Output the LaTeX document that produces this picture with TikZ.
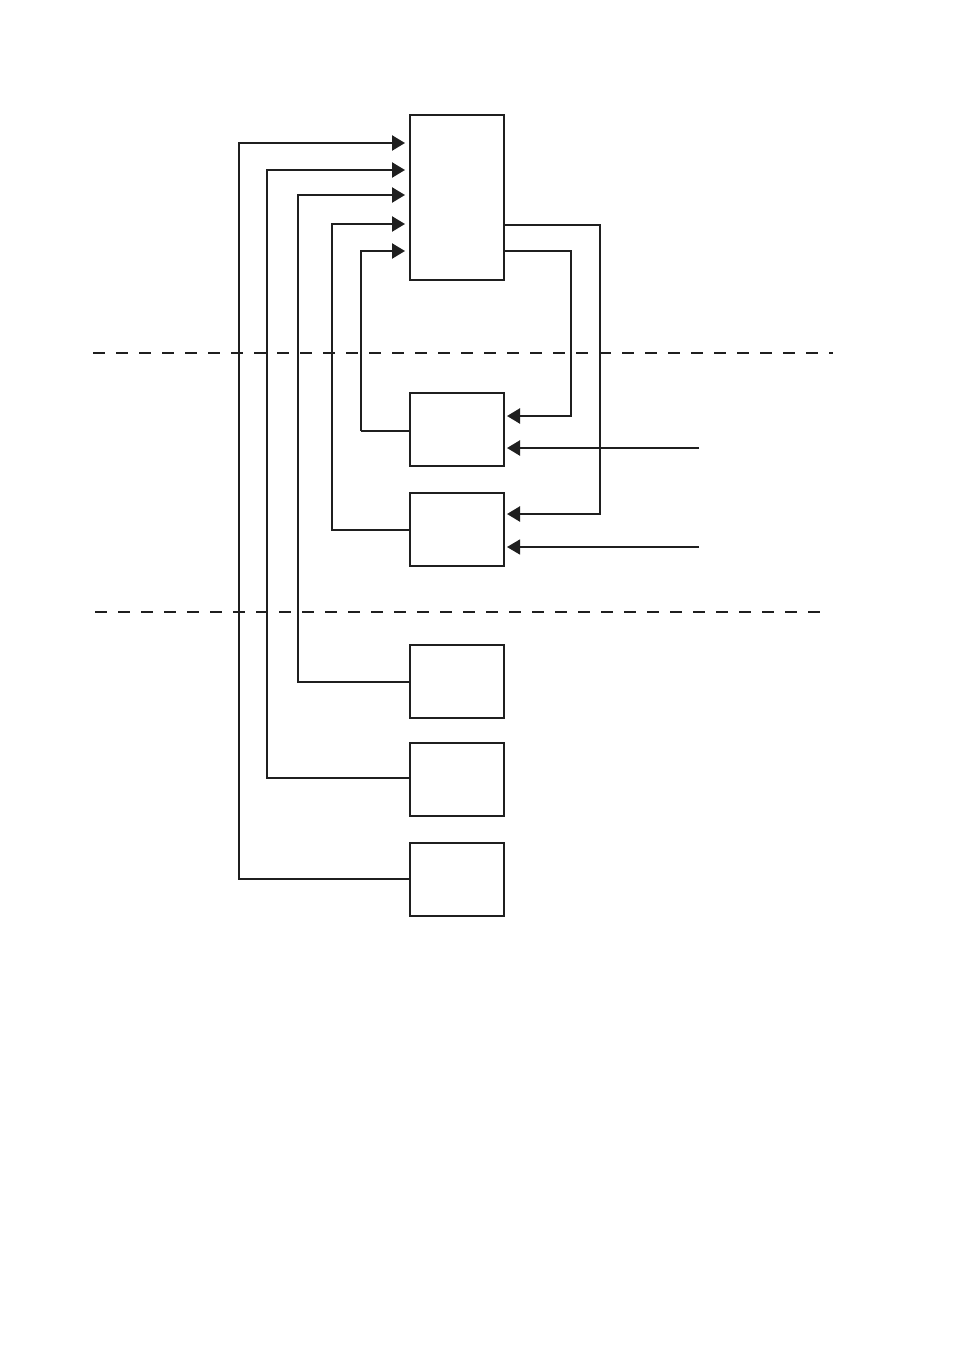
\documentclass[tikz,border=0pt]{standalone}
\usetikzlibrary{arrows.meta}
\begin{document}
\begin{tikzpicture}[x=1pt,y=-1pt,
  box/.style={draw=black!88, line width=2.3pt, minimum width=94pt, inner sep=0pt, outer sep=0pt},
  wire/.style={draw=black!88, line width=2.3pt},
  thinwire/.style={draw=black!88, line width=1.3pt},
  arr/.style={wire, -{Triangle[length=13pt,width=15pt]}},
  thinarr/.style={thinwire, -{Triangle[length=13pt,width=15pt]}},
  sep/.style={draw=black!88, line width=2.5pt, dash pattern=on 12pt off 11pt}]
\useasboundingbox (0,0) rectangle (954,1350);
\fill[white] (0,0) rectangle (954,1350);
% boxes
\node[box, minimum height=165pt] (top) at (457,197.5) {};
\node[box, minimum height=73pt] (b2) at (457,429.5) {};
\node[box, minimum height=73pt] (b3) at (457,529.5) {};
\node[box, minimum height=73pt] (b4) at (457,681.5) {};
\node[box, minimum height=73pt] (b5) at (457,779.5) {};
\node[box, minimum height=73pt] (b6) at (457,879.5) {};
% separators
\coordinate (s1a) at (93,353); \coordinate (s1b) at (833,353);
\coordinate (s2a) at (95,612); \coordinate (s2b) at (823,612);
\draw[sep] (s1a) -- (s1b);
\draw[sep] (s2a) -- (s2b);
% helper coordinates
\coordinate (y143) at (0,143);
\coordinate (y170) at (0,170);
\coordinate (y195) at (0,195);
\coordinate (y224) at (0,224);
\coordinate (y251) at (0,251);
\coordinate (y225) at (0,225);
\coordinate (y416) at (0,416);
\coordinate (y448) at (0,448);
\coordinate (y514) at (0,514);
\coordinate (y547) at (0,547);
\coordinate (c2) at (361,431);
% feedback to top box
\draw[thinwire] (b2.west |- c2) -- (c2);
\draw[arr, shorten >=5pt] (c2) -- (361,251) -- (top.west |- y251);
\draw[arr, shorten >=5pt] (b3.west |- 0,530) -| (332,224) -- (top.west |- y224);
\draw[arr, shorten >=5pt] (b4.west |- 0,682) -| (298,195) -- (top.west |- y195);
\draw[arr, shorten >=5pt] (b5.west |- 0,778) -| (267,170) -- (top.west |- y170);
\draw[arr, shorten >=5pt] (b6.west |- 0,879) -| (239,143) -- (top.west |- y143);
% outputs of top box
\draw[arr, shorten >=3pt] (top.east |- y251) -| (571,416) -- (b2.east |- y416);
\draw[arr, shorten >=3pt] (top.east |- y225) -| (600,514) -- (b3.east |- y514);
% external inputs
\coordinate (in2) at (699,448);
\coordinate (in3) at (699,547);
\draw[arr, shorten >=3pt] (in2) -- (b2.east |- y448);
\draw[thinarr, shorten >=3pt] (in3) -- (b3.east |- y547);
\end{tikzpicture}
\end{document}
